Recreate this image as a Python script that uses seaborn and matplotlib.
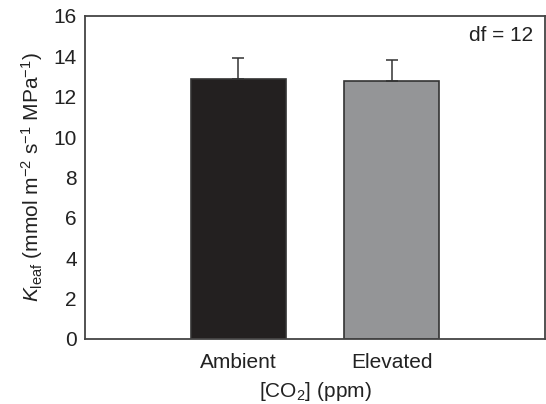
import matplotlib
matplotlib.use("Agg")
import matplotlib.pyplot as plt
import seaborn as sns
import pandas as pd

# 数据
groups = ["Ambient", "Elevated"]
means = [12.89, 12.78]
se = [1.01, 1.06]
colors = ["#231f20", "#939598"]

sns.set_theme(style="white")
plt.rcParams["font.family"] = ["Liberation Sans", "DejaVu Sans"]
plt.rcParams["mathtext.fontset"] = "custom"
plt.rcParams["mathtext.rm"] = "Liberation Sans"
plt.rcParams["mathtext.it"] = "Liberation Sans:italic"

df = pd.DataFrame({"co2": groups, "k": means})
fs = 15

fig = plt.figure(figsize=(5.46, 4.04), dpi=100)
ax = fig.add_axes([85 / 546, 1 - 339 / 404, 460 / 546, 323 / 404])

sns.barplot(data=df, x="co2", y="k", hue="co2", palette=colors, legend=False,
            width=0.62, edgecolor="#333333", linewidth=1.2, errorbar=None, ax=ax)
# 只画向上的误差线
ax.errorbar(range(len(groups)), means, yerr=[[0, 0], se], fmt="none",
            ecolor="#333333", elinewidth=1.1, capsize=4, capthick=1.1)

ax.set_xlim(-1, 2)
ax.set_ylim(0, 16)
ax.set_yticks(range(0, 17, 2))
ax.tick_params(axis="y", direction="in", length=6, width=1.2, color="#333333",
               labelsize=fs, pad=6, labelcolor="#222222")
ax.tick_params(axis="x", length=0, labelsize=fs, pad=10, labelcolor="#222222")
for s in ax.spines.values():
    s.set_color("#444444")
    s.set_linewidth(1.3)

ax.set_xlabel("[CO$_2$] (ppm)", fontsize=fs, color="#222222", labelpad=6)
ax.set_ylabel("$K_{\\mathrm{leaf}}$ (mmol m$^{-2}$ s$^{-1}$ MPa$^{-1}$)",
              fontsize=fs, color="#222222", labelpad=6)
ax.text(0.975, 0.94, "df = 12", transform=ax.transAxes, ha="right", va="center",
        fontsize=fs, color="#222222")

fig.savefig("out.png", dpi=100)
